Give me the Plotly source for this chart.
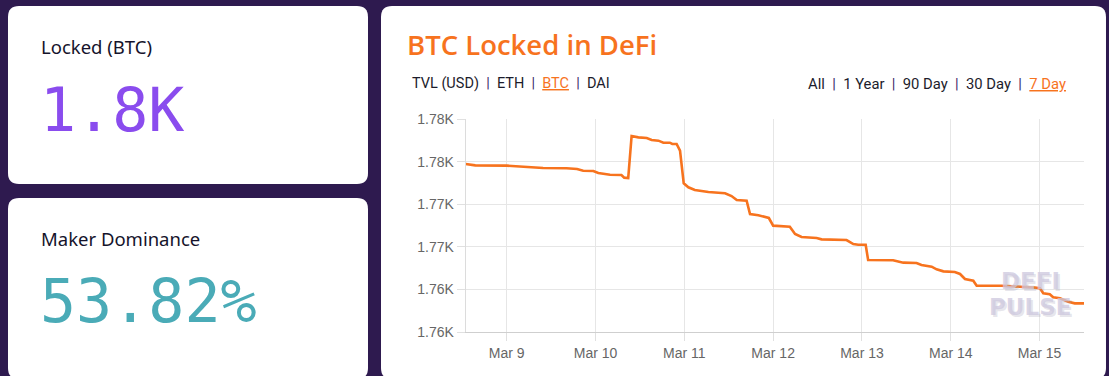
import plotly.graph_objects as go

W, H = 1109, 376

# ---- data ----
times = [
    "2020-03-08 12:55", "2020-03-08 15:30", "2020-03-09 00:00", "2020-03-09 05:25",
    "2020-03-09 09:50", "2020-03-09 16:10", "2020-03-09 19:00", "2020-03-09 20:40",
    "2020-03-09 23:25", "2020-03-10 00:45", "2020-03-10 03:55", "2020-03-10 07:00",
    "2020-03-10 07:45", "2020-03-10 08:50", "2020-03-10 09:45", "2020-03-10 11:35",
    "2020-03-10 13:50", "2020-03-10 15:10", "2020-03-10 17:00", "2020-03-10 18:20",
    "2020-03-10 20:05", "2020-03-10 20:45", "2020-03-10 21:55", "2020-03-10 22:50",
    "2020-03-10 23:50", "2020-03-11 01:05", "2020-03-11 02:50", "2020-03-11 06:30",
    "2020-03-11 11:00", "2020-03-11 12:45", "2020-03-11 14:10", "2020-03-11 16:50",
    "2020-03-11 17:45", "2020-03-11 20:00", "2020-03-11 21:20", "2020-03-11 22:50",
    "2020-03-12 00:00", "2020-03-12 04:30", "2020-03-12 05:55", "2020-03-12 07:40",
    "2020-03-12 11:45", "2020-03-12 13:05", "2020-03-12 19:50", "2020-03-12 21:40",
    "2020-03-12 23:00", "2020-03-13 01:00", "2020-03-13 01:40", "2020-03-13 08:25",
    "2020-03-13 11:10", "2020-03-13 14:45", "2020-03-13 16:05", "2020-03-13 18:50",
    "2020-03-13 20:10", "2020-03-13 22:00", "2020-03-14 01:05", "2020-03-14 02:30",
    "2020-03-14 03:50", "2020-03-14 06:05", "2020-03-14 07:00", "2020-03-14 13:45",
    "2020-03-14 22:45", "2020-03-15 00:05", "2020-03-15 01:00", "2020-03-15 02:45",
    "2020-03-15 03:40", "2020-03-15 05:30", "2020-03-15 07:45", "2020-03-15 09:30",
    "2020-03-15 12:00",
]
btc_locked = [
    1774.75, 1774.59, 1774.55, 1774.43,
    1774.28, 1774.24, 1774.16, 1773.96,
    1773.92, 1773.69, 1773.49, 1773.45,
    1773.14, 1773.10, 1778.04, 1777.88,
    1777.80, 1777.57, 1777.49, 1777.25,
    1777.25, 1777.10, 1777.10, 1776.31,
    1772.48, 1772.01, 1771.69, 1771.45,
    1771.30, 1770.98, 1770.51, 1770.43,
    1768.87, 1768.72, 1768.55, 1768.40,
    1767.50, 1767.38, 1766.52, 1766.17,
    1766.05, 1765.89, 1765.81, 1765.34,
    1765.26, 1765.26, 1763.46, 1763.43,
    1763.15, 1763.11, 1762.87, 1762.68,
    1762.37, 1762.13, 1762.05, 1761.82,
    1761.23, 1761.03, 1760.44, 1760.44,
    1760.21, 1760.15, 1759.55, 1759.43,
    1759.08, 1758.96, 1758.56, 1758.37,
    1758.37,
]
y_tickvals = [1755, 1760, 1765, 1770, 1775, 1780]
y_ticktext = ["1.76K", "1.76K", "1.77K", "1.77K", "1.78K", "1.78K"]
x_tickvals = ["2020-03-09", "2020-03-10", "2020-03-11", "2020-03-12",
              "2020-03-13", "2020-03-14", "2020-03-15"]
x_ticktext = ["Mar 9", "Mar 10", "Mar 11", "Mar 12", "Mar 13", "Mar 14", "Mar 15"]
x_range = ["2020-03-08 12:55", "2020-03-15 12:00"]

locked_label, locked_value = "Locked (BTC)", "1.8K"
dom_label, dom_value = "Maker Dominance", "53.82%"
title_text = "BTC Locked in DeFi"
asset_toggles = ["TVL (USD)", "ETH", "BTC", "DAI"]
period_toggles = ["All", "1 Year", "90 Day", "30 Day", "7 Day"]
active_asset, active_period = "BTC", "7 Day"
watermark = ["DEFI", "PULSE"]

BG = "#2e1a4f"
ORANGE = "#f7731e"
PURPLE = "#8a4cee"
TEAL = "#4aabb7"


def fx(px):
    return px / W


def fy(py):
    return 1 - py / H


def rrect(x0, y0, x1, y1, r):
    pts = [
        ("M", [(x0 + r, y0)]), ("L", [(x1 - r, y0)]), ("Q", [(x1, y0), (x1, y0 + r)]),
        ("L", [(x1, y1 - r)]), ("Q", [(x1, y1), (x1 - r, y1)]),
        ("L", [(x0 + r, y1)]), ("Q", [(x0, y1), (x0, y1 - r)]),
        ("L", [(x0, y0 + r)]), ("Q", [(x0, y0), (x0 + r, y0)]),
    ]
    s = ""
    for cmd, ps in pts:
        s += cmd + " " + " ".join(f"{fx(a):.5f},{fy(b):.5f}" for a, b in ps) + " "
    return s + "Z"


fig = go.Figure()
fig.add_trace(go.Scatter(
    x=times, y=btc_locked, mode="lines",
    line=dict(color=ORANGE, width=2.6), hoverinfo="skip", showlegend=False,
))

shapes = [
    dict(type="path", path=rrect(8, 6, 368, 184, 11), xref="paper", yref="paper",
         fillcolor="white", line=dict(width=0), layer="below"),
    dict(type="path", path=rrect(8, 198, 368, 379, 11), xref="paper", yref="paper",
         fillcolor="white", line=dict(width=0), layer="below"),
    dict(type="path", path=rrect(381, 6, 1106, 379, 11), xref="paper", yref="paper",
         fillcolor="white", line=dict(width=0), layer="below"),
]

ann = []


def text(x, y, t, size, color, family, anchor="left", weight="normal", **kw):
    ann.append(dict(x=fx(x), y=fy(y), xref="paper", yref="paper", text=t,
                    showarrow=False, xanchor=anchor, yanchor="middle",
                    font=dict(size=size, color=color, family=family, weight=weight), **kw))


text(39, 46, locked_label, 18.5, "#15132b", "Noto Sans")
text(38, 110, locked_value, 60, PURPLE, "DejaVu Sans Mono")
text(39, 238, dom_label, 18.5, "#15132b", "Noto Sans")
text(38, 301, dom_value, 60, TEAL, "DejaVu Sans Mono")
text(405, 44, title_text, 27.5, ORANGE, "Open Sans", weight=600)

NB = "\u00a0"
sep = f"<span style='color:#3b2a6b'>{NB*2}|{NB*2}</span>"


def toggles(items, active):
    parts = []
    for it in items:
        if it == active:
            parts.append(f"<span style='color:{ORANGE}'><u>{it}</u></span>")
        else:
            parts.append(it)
    return sep.join(parts)


text(410, 84, toggles(asset_toggles, active_asset), 14.5, "#1c1c2c", "Roboto")
text(1068, 84, toggles(period_toggles, active_period), 14.8, "#1c1c2c", "Roboto",
     anchor="right")

# watermark
for t, yy in zip(watermark, (281, 307)):
    ann.append(dict(x=fx(1030), y=fy(yy), xref="paper", yref="paper", text=t,
                    showarrow=False, xanchor="center", yanchor="middle",
                    font=dict(size=23, color="rgba(205,200,222,0.75)", family="DejaVu Sans",
                              weight="bold", shadow="2px 2px 0px rgba(160,155,180,0.35)")))

fig.update_layout(
    width=W, height=H, autosize=False,
    margin=dict(l=0, r=0, t=0, b=0, pad=0, autoexpand=False),
    paper_bgcolor=BG, plot_bgcolor="rgba(0,0,0,0)",
    shapes=shapes, annotations=ann,
    showlegend=False,
    xaxis=dict(
        domain=[fx(465.7), fx(1084)], type="date", range=x_range,
        tickvals=x_tickvals, ticktext=x_ticktext, automargin=False,
        showgrid=True, gridcolor="#e6e6e6", gridwidth=1,
        ticks="outside", ticklen=8, tickcolor="#e0e0e0",
        showline=True, linecolor="#cfcfcf", linewidth=1,
        tickfont=dict(family="Liberation Sans", size=14, color="#666666"),
        zeroline=False, fixedrange=True,
    ),
    yaxis=dict(
        domain=[fy(332), fy(119.3)], range=[1755, 1780],
        tickvals=y_tickvals, ticktext=y_ticktext, automargin=False,
        showgrid=True, gridcolor="#e6e6e6", gridwidth=1,
        ticks="outside", ticklen=8, tickcolor="#e0e0e0",
        showline=True, linecolor="#dcdcdc", linewidth=1,
        tickfont=dict(family="Liberation Sans", size=14, color="#666666"),
        zeroline=False, fixedrange=True,
    ),
)

post = ("var s='margin:0;padding:0;overflow:hidden;width:1109px;height:376px;';"
        "document.documentElement.style.cssText=s;document.body.style.cssText=s;"
        "var d=document.getElementById('{plot_id}');"
        "d.style.position='absolute';d.style.left='0px';d.style.top='0px';")
fig.write_html("out.html", post_script=post, config={"displayModeBar": False})
